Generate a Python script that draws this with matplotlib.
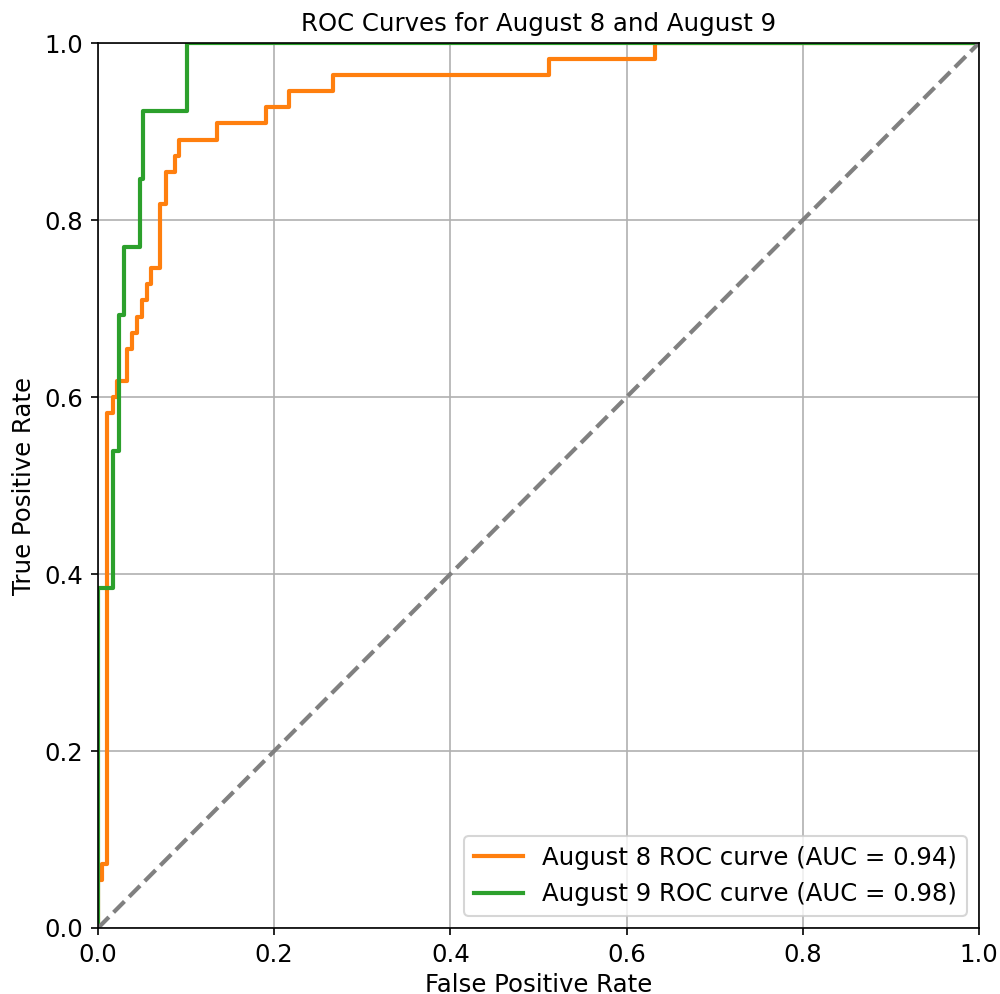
import matplotlib
matplotlib.use("Agg")
import matplotlib.pyplot as plt

# ROC points (corner points of the step curves)
fpr_aug8 = [0, 0, 0.0045, 0.0045, 0.0100, 0.0100, 0.0174, 0.0174, 0.0210, 0.0210,
            0.0326, 0.0326, 0.0385, 0.0385, 0.0440, 0.0440, 0.0495, 0.0495, 0.0555, 0.0555,
            0.0600, 0.0600, 0.0705, 0.0705, 0.0770, 0.0770, 0.0875, 0.0875, 0.0924, 0.0924,
            0.1356, 0.1356, 0.1905, 0.1905, 0.2165, 0.2165, 0.2670, 0.2670, 0.5120, 0.5120,
            0.6320, 0.6320, 1.0]
tpr_aug8 = [0, 0.0545, 0.0545, 0.0727, 0.0727, 0.5818, 0.5818, 0.6000, 0.6000, 0.6182,
            0.6182, 0.6545, 0.6545, 0.6727, 0.6727, 0.6909, 0.6909, 0.7091, 0.7091, 0.7273,
            0.7273, 0.7455, 0.7455, 0.8182, 0.8182, 0.8545, 0.8545, 0.8727, 0.8727, 0.8909,
            0.8909, 0.9091, 0.9091, 0.9273, 0.9273, 0.9455, 0.9455, 0.9636, 0.9636, 0.9818,
            0.9818, 1.0, 1.0]
auc_aug8 = 0.94

fpr_aug9 = [0, 0, 0.0174, 0.0174, 0.0240, 0.0240, 0.0295, 0.0295, 0.0480, 0.0480,
            0.0510, 0.0510, 0.1005, 0.1005, 1.0]
tpr_aug9 = [0, 0.3846, 0.3846, 0.5385, 0.5385, 0.6923, 0.6923, 0.7692, 0.7692, 0.8462,
            0.8462, 0.9231, 0.9231, 1.0, 1.0]
auc_aug9 = 0.98

fs = 11.7
plt.rcParams['font.size'] = fs

fig = plt.figure(figsize=(1000 / 150, 994 / 150), dpi=150)
ax = fig.add_axes([0.098, 0.0664, 0.881, 0.8903])

ax.plot(fpr_aug8, tpr_aug8, color='#ff7f0e', lw=2,
        label="August 8 ROC curve (AUC = %.2f)" % auc_aug8)
ax.plot(fpr_aug9, tpr_aug9, color='#2ca02c', lw=2,
        label="August 9 ROC curve (AUC = %.2f)" % auc_aug9)
ax.plot([0, 1], [0, 1], color='gray', lw=2, linestyle='--')

ax.set_xlim(0.0, 1.0)
ax.set_ylim(0.0, 1.0)
ax.set_xlabel("False Positive Rate", labelpad=3)
ax.set_ylabel("True Positive Rate")
ax.set_title("ROC Curves for August 8 and August 9", fontsize=fs)
ax.legend(loc="lower right")
ax.grid(True)

fig.savefig("out.png", dpi=150)
